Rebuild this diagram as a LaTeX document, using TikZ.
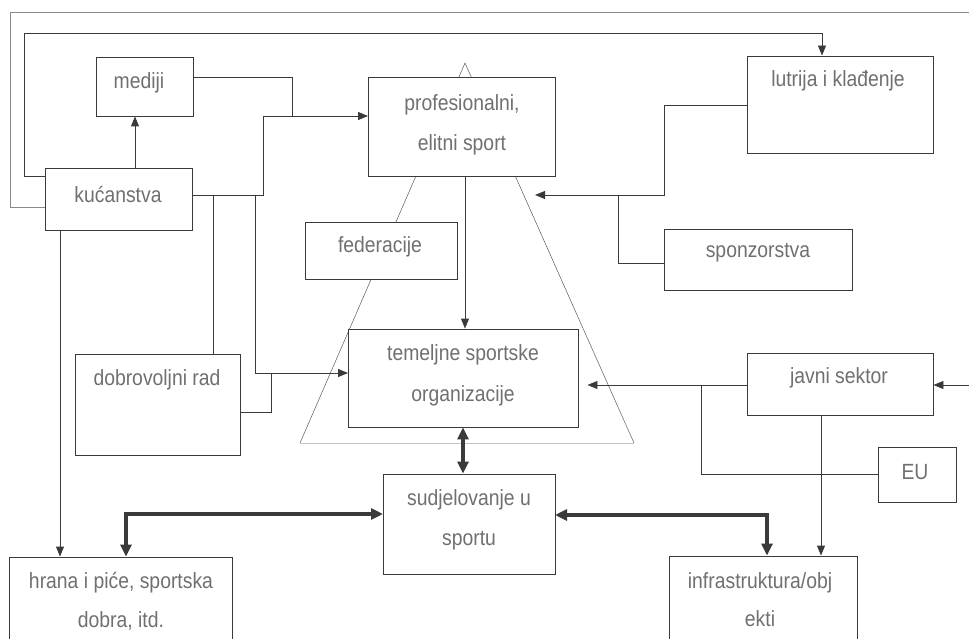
\documentclass[tikz,border=0pt]{standalone}
\usepackage{fontspec}
\setmainfont{Liberation Sans}[FakeStretch=0.88]
\usetikzlibrary{arrows.meta}
\definecolor{linec}{HTML}{3A3A3A}
\definecolor{txtc}{HTML}{707070}
\definecolor{tric}{HTML}{5A5A5A}
\definecolor{basec}{HTML}{C4C4C4}
\definecolor{framec}{HTML}{8A8A8A}
\begin{document}
\begin{tikzpicture}[x=1pt,y=-1pt,
  box/.style={draw=linec, line width=0.9pt, fill=white, inner sep=0pt, rectangle},
  txt/.style={text=txtc, font=\fontsize{22}{26}\selectfont, inner sep=0pt},
  conn/.style={draw=linec, line width=0.9pt},
  arr/.style={conn, -{Triangle[length=10pt,width=8pt]}},
  bigarr/.style={draw=linec, line width=3.6pt, {Triangle[length=12pt,width=11pt]}-{Triangle[length=12pt,width=11pt]}},
  tri/.style={draw=tric, line width=0.5pt}]
\useasboundingbox (0,0) rectangle (969,639);
\clip (0,0) rectangle (969,639);
% triangle (behind boxes)
\coordinate (apex) at (465,63);
\coordinate (bl) at (300,443);
\coordinate (br) at (634,443);
\draw[tri] (bl) -- (apex) -- (br);
\draw[draw=basec, line width=0.9pt] (bl) -- (br);
% boxes
\node[box, minimum width=97pt, minimum height=59pt] (mediji) at (144.5,86.5) {};
\node[box, minimum width=147pt, minimum height=62pt] (kuc) at (118.5,199) {};
\node[box, minimum width=187pt, minimum height=99pt] (prof) at (461.5,126.5) {};
\node[box, minimum width=152pt, minimum height=57pt] (fed) at (381,250.5) {};
\node[box, minimum width=186pt, minimum height=97pt] (lut) at (840,104.5) {};
\node[box, minimum width=188pt, minimum height=61pt] (spon) at (758,259.5) {};
\node[box, minimum width=230pt, minimum height=98pt] (tem) at (463,378) {};
\node[box, minimum width=186pt, minimum height=62pt] (javni) at (840,384) {};
\node[box, minimum width=165pt, minimum height=101pt] (dobro) at (157.5,404.5) {};
\node[box, minimum width=78pt, minimum height=55pt] (eu) at (917,474.5) {};
\node[box, minimum width=172pt, minimum height=100pt] (sud) at (469,524) {};
\node[box, minimum width=223pt, minimum height=120pt] (hrana) at (120.5,617) {};
\node[box, minimum width=188pt, minimum height=120pt] (infra) at (763,616) {};
% texts
\node[txt] (tmediji) at (139,83) {mediji};
\node[txt] (tkuc) at (118,195) {kućanstva};
\node[txt] (tprof1) at (462,105) {profesionalni,};
\node[txt] (tprof2) at (462,145) {elitni sport};
\node[txt] (tfed) at (380,247) {federacije};
\node[txt] (tlut) at (838,81) {lutrija i klađenje};
\node[txt] (tspon) at (758,253) {sponzorstva};
\node[txt] (ttem1) at (463,355) {temeljne sportske};
\node[txt] (ttem2) at (463,396) {organizacije};
\node[txt] (tjavni) at (839,378) {javni sektor};
\node[txt] (tdobro) at (157,380) {dobrovoljni rad};
\node[txt] (teu) at (915,472) {EU};
\node[txt] (tsud1) at (469,500) {sudjelovanje u};
\node[txt] (tsud2) at (469,541) {sportu};
\node[txt] (thrana1) at (121,583) {hrana i piće, sportska};
\node[txt] (thrana2) at (121,621) {dobra, itd.};
\node[txt] (tinfra1) at (760,583) {infrastruktura/obj};
\node[txt] (tinfra2) at (760,619) {ekti};
% junction coordinates
\coordinate (kA) at (45,176);
\coordinate (kB) at (45,207);
\coordinate (kR) at (192,195);
\coordinate (kD) at (213,195);
\coordinate (kE) at (255,195);
\coordinate (kF) at (263,195);
\coordinate (mR) at (193,77);
\coordinate (pL) at (368,116);
\coordinate (kb) at (60,230);
\coordinate (lL) at (747,105);
\coordinate (sL) at (664,263);
\coordinate (pin) at (535,195);
\coordinate (jL) at (747,385);
\coordinate (jJ) at (701,385);
\coordinate (jb) at (821,415);
\coordinate (rin) at (969,385);
\coordinate (dR) at (240,412);
\coordinate (tL) at (348,373);
\coordinate (sudL) at (383,514);
\coordinate (sudR) at (555,515);
% outer frame line
\draw[draw=framec, line width=0.8pt] (kB) -- (10,207) -- (10,12) -- (969,12);
% connectors
\draw[arr] (kA) -- (24,176) -- (24,33) -| (lut.north -| 822,0);
\draw[arr] (kuc.north -| 135,0) -- (mediji.south -| 135,0);
\draw[conn] (mR) -| (292,116);
\draw[arr] (kR) -- (kF) |- (pL);
\draw[conn] (kD) -- (dobro.north -| kD);
\draw[arr] (kE) |- (tL);
\draw[conn] (dR) -| (271,373);
\draw[arr] (kb) -- (hrana.north -| kb);
\draw[arr] (prof.south -| 465,0) -- (tem.north -| 465,0);
\draw[arr] (lL) -| (664,195) -- (pin);
\draw[conn] (sL) -| (618,195);
\draw[arr, shorten >=9pt] (jL) -- (tem.east |- jL);
\draw[conn] (jJ) |- (eu.west);
\draw[arr] (jb) -- (infra.north -| jb);
\draw[arr] (rin) -- (javni.east |- rin);
\draw[bigarr] (tem.south -| 463,0) -- (sud.north -| 463,0);
\draw[bigarr] (sudL) -| (hrana.north -| 126,0);
\draw[bigarr] (sudR) -| (infra.north -| 767,0);
\end{tikzpicture}
\end{document}
